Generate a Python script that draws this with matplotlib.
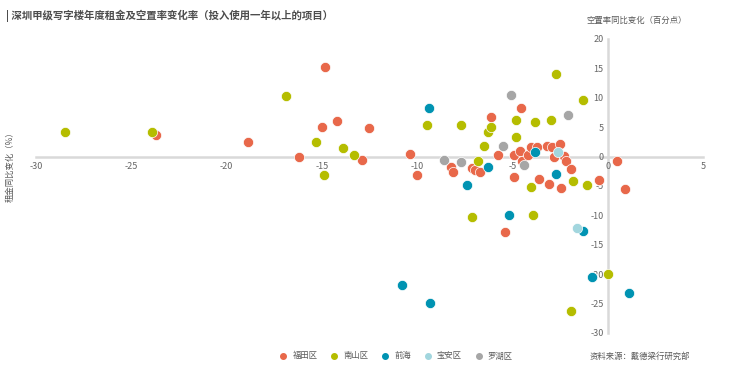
import matplotlib
matplotlib.use('Agg')
import matplotlib.pyplot as plt
from matplotlib.lines import Line2D

plt.rcParams['font.family'] = ['Noto Sans CJK SC', 'DejaVu Sans']
plt.rcParams['axes.unicode_minus'] = False

# 数据：租金同比变化(%) 与 空置率同比变化(百分点)
futian_x = [-23.7, -18.9, -14.85, -16.2, -15.0, -14.2, -12.5, -12.9, -10.4, -10.0,
            -8.2, -8.1, -7.1, -6.95, -6.7, -6.1, -5.75, -4.55, -4.9, -4.9,
            -4.6, -4.5, -4.2, -4.0, -3.7, -3.6, -3.2, -3.1, -2.9, -2.8,
            -2.5, -2.3, -2.2, -1.9, -2.45, -0.45, 0.5, 0.9, -5.4]
futian_y = [3.6, 2.5, 15.2, 0.0, 5.0, 6.1, 4.8, -0.5, 0.5, -3.1,
            -1.8, -2.7, -1.9, -2.3, -2.7, 6.7, 0.3, 8.2, 0.2, -3.4,
            0.9, -0.7, 0.2, 1.7, 1.7, -3.8, 1.8, -4.6, 1.6, -0.05,
            2.2, 0.1, -0.8, -2.1, -5.4, -3.9, -0.8, -5.5, -12.9]

nanshan_x = [-28.5, -23.9, -16.9, -15.3, -14.9, -13.9, -13.3, -9.5, -7.7, -6.8,
             -7.1, -6.3, -6.1, -6.5, -4.8, -4.8, -3.8, -3.0, -1.3, -2.7,
             -4.0, -1.8, -1.1, -3.9, 0.0, -1.9]
nanshan_y = [4.1, 4.1, 10.3, 2.5, -3.2, 1.4, 0.2, 5.4, 5.4, -0.8,
             -10.3, 4.2, 5.0, 1.8, 6.2, 3.3, 5.9, 6.2, 9.6, 14.1,
             -5.1, -4.2, -4.9, -9.9, -19.9, -26.3]

qianhai_x = [-9.4, -7.4, -6.3, -3.8, -2.7, -5.2, -1.3, -0.8, -10.8, -9.35, 1.1]
qianhai_y = [8.2, -4.9, -1.8, 0.7, -2.9, -9.9, -12.7, -20.5, -21.9, -24.9, -23.2]

baoan_x = [-2.6, -1.6]
baoan_y = [0.85, -12.2]

luohu_x = [-8.6, -7.7, -5.5, -4.4, -5.1, -2.1]
luohu_y = [-0.5, -0.85, 1.75, -1.4, 10.5, 7.0]

labels = ['福田区', '南山区', '前海', '宝安区', '罗湖区']
colors = ['#E8684A', '#B5BD00', '#0093B2', '#A2D6DE', '#A6A6A6']
series = [(futian_x, futian_y), (nanshan_x, nanshan_y), (qianhai_x, qianhai_y),
          (baoan_x, baoan_y), (luohu_x, luohu_y)]

fig = plt.figure(figsize=(7.4, 3.7), dpi=100)
ax = fig.add_axes([0.0486, 0.1, 0.9014, 0.7946])

for (xs, ys), c in zip(series, colors):
    ax.scatter(xs, ys, s=54, color=c, edgecolors='white', linewidths=0.5, zorder=3)

ax.set_xlim(-30, 5)
ax.set_ylim(-30, 20)
ax.set_xticks(range(-30, 6, 5))
ax.set_yticks(range(-30, 21, 5))

ax.spines['left'].set_position(('data', 0))
ax.spines['bottom'].set_position(('data', 0))
ax.spines['top'].set_visible(False)
ax.spines['right'].set_visible(False)
for s in ['left', 'bottom']:
    ax.spines[s].set_color('#D9D9D9')
    ax.spines[s].set_linewidth(1.8)
    ax.spines[s].set_zorder(1)
ax.tick_params(length=0, labelsize=6.5, labelcolor='#666666', pad=4)
ax.tick_params(axis='y', pad=3)
ax.patch.set_alpha(0)

# 轴标题
fig.text(0.793, 0.945, '空置率同比变化（百分点）', fontsize=6, color='#595959', va='center')
fig.text(0.014, 0.555, '租金同比变化（%）', fontsize=6, color='#595959', rotation=90,
         va='center', ha='center')

# 标题
fig.text(0.008, 0.958, '| 深圳甲级写字楼年度租金及空置率变化率（投入使用一年以上的项目）',
         fontsize=7.5, color='#4D4D4D', fontweight='bold', va='center')

# 图例
handles = [Line2D([], [], marker='o', linestyle='', markersize=4, color=c) for c in colors]
fig.legend(handles, labels, loc='center left', bbox_to_anchor=(0.367, 0.038), ncol=5,
           frameon=False, fontsize=6, handletextpad=0.1, columnspacing=1.0,
           labelcolor='#595959', borderaxespad=0)

fig.text(0.797, 0.038, '资料来源：戴德梁行研究部', fontsize=6, color='#595959', va='center')

fig.savefig('out.png', dpi=100)
